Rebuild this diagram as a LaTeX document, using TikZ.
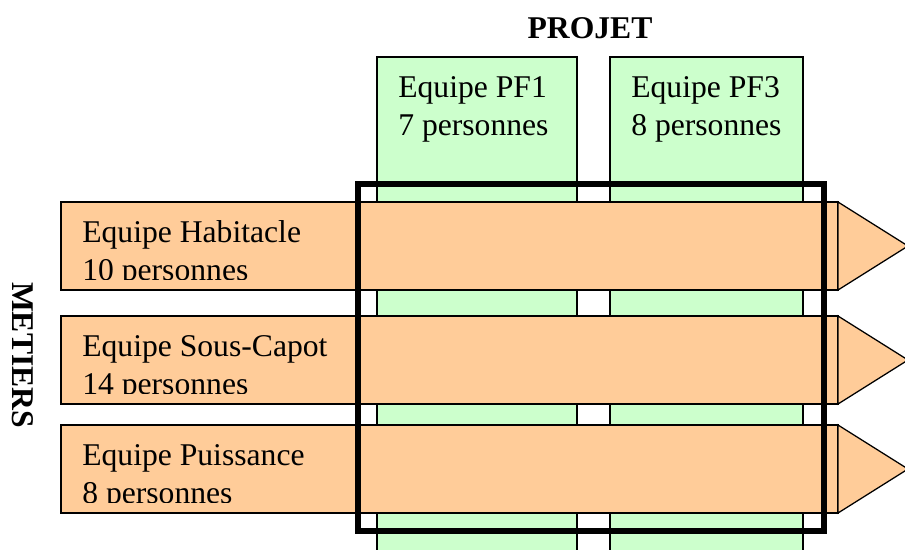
\documentclass[tikz,border=0pt]{standalone}
\usepackage{fontspec}
\setmainfont{Liberation Serif}
\definecolor{metiercol}{HTML}{FFCC99}
\definecolor{projetcol}{HTML}{CCFFCC}

\begin{document}
\begin{tikzpicture}[x=0.025cm, y=-0.025cm,
    metier/.style={fill=metiercol, draw=black, line width=0.9pt},
    projet/.style={fill=projetcol, draw=black, line width=0.9pt},
    label/.style={anchor=base west, align=left, inner sep=0pt, font=\fontsize{22.5}{27}\selectfont},
    title/.style={anchor=base, inner sep=0pt, font=\fontsize{22.5}{27}\selectfont\bfseries}]
\clip (0,0) rectangle (905,549);
% colonnes projet
\draw[projet] (377,57) rectangle (577,560);
\draw[projet] (610,57) rectangle (803,560);
\node[label] (pf1) at (398,135) {Equipe PF1\\7 personnes};
\node[label] (pf3) at (631,135) {Equipe PF3\\8 personnes};
% barres metier
\foreach \y/\txt in {202/{Equipe Habitacle\\10 personnes}, 316/{Equipe Sous-Capot\\14 personnes}, 425/{Equipe Puissance\\8 personnes}} {
    \draw[metier] (61,\y) rectangle (838,\y+88);
    \draw[metier] (838,\y) -- (908,\y+44) -- (838,\y+88) -- cycle;
    \begin{scope}
        \clip (61,\y) rectangle (838,\y+77);
        \node[label] (metier\y) at (82,\y+78) {\txt};
    \end{scope}
}
% cadre
\draw[line width=4.5pt] (358,184) rectangle (824,531);
\node[title] (projet) at (590,38) {PROJET};
\node[title, rotate=-90] (metiers) at (12,355) {METIERS};
\end{tikzpicture}
\end{document}
